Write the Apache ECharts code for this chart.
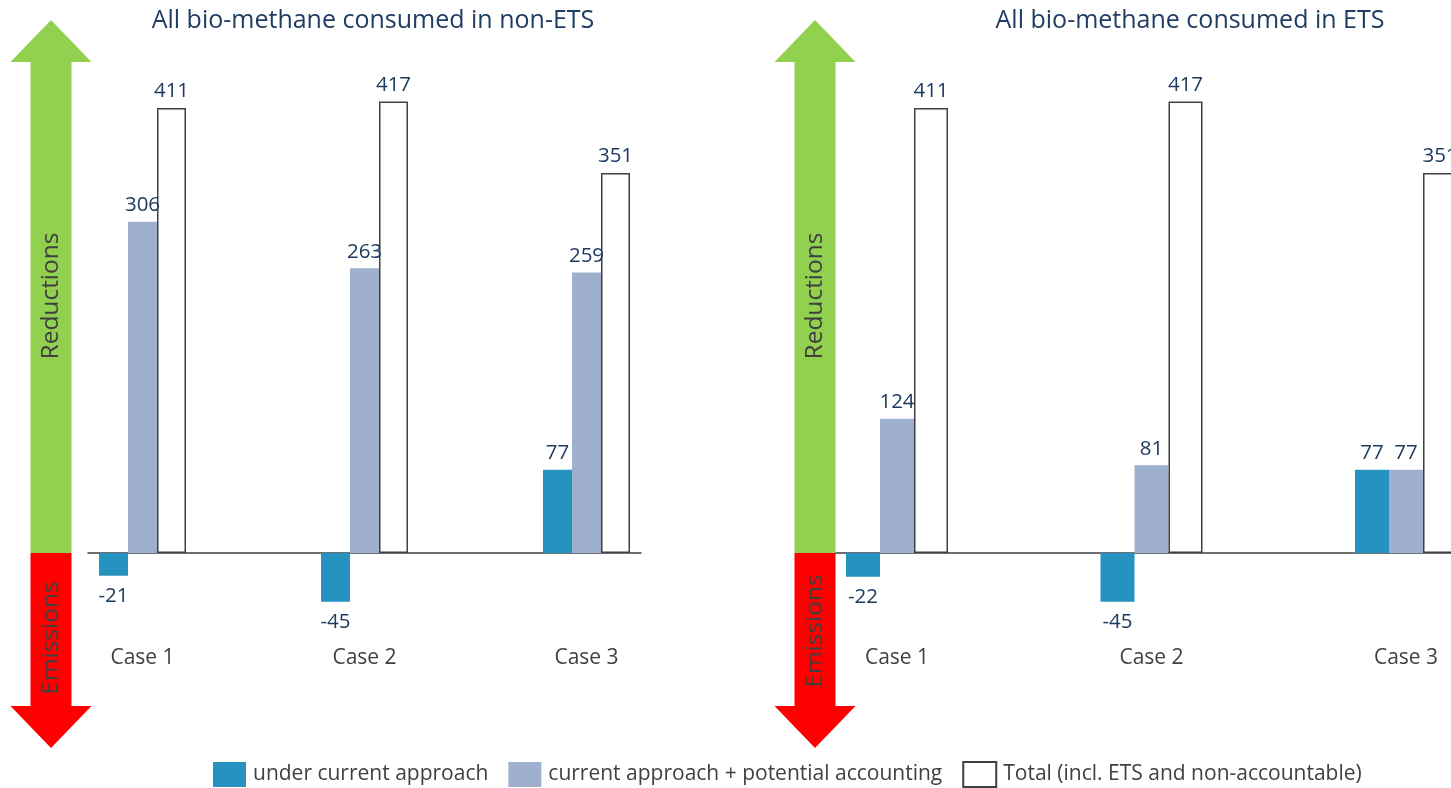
<!DOCTYPE html>
<html>
<head>
<meta charset="utf-8">
<script src="https://cdn.jsdelivr.net/npm/echarts@6/dist/echarts.min.js"></script>
<style>
  html, body { margin: 0; padding: 0; background: #ffffff; }
  #chart { width: 1451px; height: 788px; }
</style>
</head>
<body>
<div id="chart"></div>
<script>
// ---- data ----
const categories = ['Case 1', 'Case 2', 'Case 3'];
const panelTitles = ['All bio-methane consumed in non-ETS', 'All bio-methane consumed in ETS'];
const seriesNames = ['under current approach', 'current approach + potential accounting', 'Total (incl. ETS and non-accountable)'];
const nonEtsCurrent = [-21, -45, 77];
const nonEtsPotential = [306, 263, 259];
const nonEtsTotal = [411, 417, 351];
const etsCurrent = [-22, -45, 77];
const etsPotential = [124, 81, 77];
const etsTotal = [411, 417, 351];
const arrowLabels = ['Reductions', 'Emissions'];

// ---- styling ----
const FONT = 'Open Sans';
const LABEL_COLOR = '#1F3A60';
const TEXT_GRAY = '#404040';
const colors = ['#2592C0', '#9EB0CE', '#FFFFFF'];

function toData(values) {
  return values.map((v, i) => ({
    value: [i + 1, v],
    label: v < 0 ? { position: 'bottom', distance: 10 } : { position: 'top', distance: 6 }
  }));
}

function makeSeries(values, idx, gridIdx, barWidth) {
  return {
    type: 'bar',
    name: seriesNames[idx],
    xAxisIndex: gridIdx,
    yAxisIndex: gridIdx,
    barWidth: barWidth,
    barGap: '0%',
    data: toData(values),
    itemStyle: idx === 2
      ? { color: '#FFFFFF', borderColor: TEXT_GRAY, borderWidth: 1.5 }
      : { color: colors[idx] },
    label: {
      show: true,
      color: LABEL_COLOR,
      fontFamily: FONT,
      fontSize: 20.5,
      formatter: p => String(p.value[1])
    },
    emphasis: { disabled: true }
  };
}

function xAxisCfg(gridIdx, min, max) {
  return {
    type: 'value',
    gridIndex: gridIdx,
    min: min,
    max: max,
    splitLine: { show: false },
    axisTick: { show: false },
    axisLine: { show: true, onZero: true, lineStyle: { color: TEXT_GRAY, width: 1.5 } },
    axisLabel: {
      customValues: [1, 2, 3],
      formatter: v => categories[Math.round(v) - 1] || '',
      margin: 8,
      color: TEXT_GRAY,
      fontFamily: FONT,
      fontSize: 21
    }
  };
}

function yAxisCfg(gridIdx) {
  return {
    type: 'value',
    gridIndex: gridIdx,
    min: -80,
    max: 450,
    show: false,
    splitLine: { show: false }
  };
}

function arrow(cx) {
  const shaftHalf = 20.5, headHalf = 40.5;
  const topTip = 20, headBaseTop = 62, zeroY = 553, headBaseBot = 706, botTip = 748;
  return [
    {
      type: 'polygon',
      shape: { points: [[cx - shaftHalf, zeroY], [cx - shaftHalf, headBaseTop], [cx - headHalf, headBaseTop], [cx, topTip], [cx + headHalf, headBaseTop], [cx + shaftHalf, headBaseTop], [cx + shaftHalf, zeroY]] },
      style: { fill: '#92D050' }, silent: true, z: 1
    },
    {
      type: 'polygon',
      shape: { points: [[cx - shaftHalf, zeroY], [cx + shaftHalf, zeroY], [cx + shaftHalf, headBaseBot], [cx + headHalf, headBaseBot], [cx, botTip], [cx - headHalf, headBaseBot], [cx - shaftHalf, headBaseBot]] },
      style: { fill: '#FF0000' }, silent: true, z: 1
    }
  ];
}

function arrowText(cx, cy, text) {
  return {
    type: 'text',
    x: cx, y: cy,
    rotation: Math.PI / 2,
    style: { text: text, fill: TEXT_GRAY, font: '24.5px "' + FONT + '"', align: 'center', verticalAlign: 'middle' },
    silent: true, z: 2
  };
}

const chart = echarts.init(document.getElementById('chart'), null, { renderer: 'canvas' });

const option = {
  backgroundColor: '#ffffff',
  animation: false,
  title: [
    { text: panelTitles[0], left: 368, top: 3, textAlign: 'center',
      textStyle: { fontFamily: FONT, fontSize: 25, fontWeight: 'normal', color: '#1F3D63' } },
    { text: panelTitles[1], left: 1185, top: 3, textAlign: 'center',
      textStyle: { fontFamily: FONT, fontSize: 25, fontWeight: 'normal', color: '#1F3D63' } }
  ],
  legend: {
    left: 208, top: 756,
    itemWidth: 33, itemHeight: 25, itemGap: 20,
    icon: 'rect',
    selectedMode: false,
    data: seriesNames,
    textStyle: { fontFamily: FONT, fontSize: 21, color: TEXT_GRAY, padding: [0, 0, 0, 2] }
  },
  grid: [
    { left: 88, width: 553, top: 65.8, height: 573.8, containLabel: false },
    { left: 831, right: 0, top: 65.8, height: 573.8, containLabel: false }
  ],
  xAxis: [
    xAxisCfg(0, 0.7545, 3.2455),
    xAxisCfg(1, 0.7407, 3.1768)
  ],
  yAxis: [yAxisCfg(0), yAxisCfg(1)],
  series: [
    makeSeries(nonEtsCurrent, 0, 0, 29),
    makeSeries(nonEtsPotential, 1, 0, 29),
    makeSeries(nonEtsTotal, 2, 0, 29),
    makeSeries(etsCurrent, 0, 1, 34),
    makeSeries(etsPotential, 1, 1, 34),
    makeSeries(etsTotal, 2, 1, 34)
  ],
  graphic: [].concat(
    arrow(51), arrow(815),
    [arrowText(51, 296, arrowLabels[0]), arrowText(51, 638, arrowLabels[1]),
     arrowText(815, 296, arrowLabels[0]), arrowText(815, 631, arrowLabels[1])]
  )
};

chart.setOption(option);
</script>
</body>
</html>
